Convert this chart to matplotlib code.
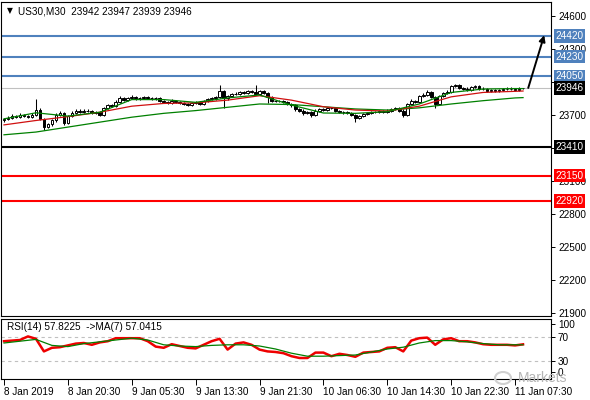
import matplotlib
matplotlib.use('Agg')
import matplotlib.pyplot as plt
import matplotlib.transforms as mtrans
from matplotlib.patches import Ellipse
import numpy as np

plt.rcParams['font.family'] = ['Liberation Sans', 'DejaVu Sans']

# ---------------- data ----------------
title_text = "US30,M30  23942 23947 23939 23946"
rsi_title = "RSI(14) 57.8225  ->MA(7) 57.0415"

opens = [23650,23660,23675,23690,23680,23700,23690,23685,23700,23745,
         23660,23590,23615,23650,23700,23720,23625,23690,23720,23740,
         23725,23740,23735,23720,23725,23700,23760,23790,23785,23820,
         23850,23840,23855,23860,23850,23855,23860,23855,23850,23855,
         23830,23815,23810,23830,23820,23810,23800,23795,23810,23815,
         23800,23830,23845,23850,23860,23915,23850,23870,23890,23895,
         23905,23900,23920,23910,23895,23920,23900,23860,23830,23825,
         23830,23815,23800,23790,23750,23740,23720,23730,23700,23740,
         23750,23745,23760,23765,23735,23730,23725,23720,23700,23675,
         23690,23710,23720,23725,23730,23735,23730,23740,23755,23760,
         23740,23700,23800,23830,23820,23870,23885,23910,23860,23800,
         23870,23900,23910,23960,23970,23945,23940,23925,23955,23960,
         23940,23935,23920,23925,23915,23930,23935,23940,23935,23930,
         23942]
highs = [23675,23690,23705,23700,23715,23710,23700,23715,23845,23760,
         23670,23630,23665,23715,23740,23730,23700,23735,23755,23750,
         23755,23750,23745,23735,23735,23770,23800,23800,23835,23870,
         23865,23865,23880,23870,23865,23870,23870,23865,23865,23865,
         23840,23825,23845,23840,23830,23820,23810,23820,23830,23825,
         23840,23855,23865,23870,23970,23925,23880,23900,23905,23915,
         23915,23930,23925,23975,23930,23930,23910,23870,23840,23840,
         23840,23825,23810,23800,23760,23750,23740,23740,23750,23760,
         23760,23770,23775,23775,23745,23740,23735,23730,23710,23700,
         23720,23730,23735,23740,23745,23745,23750,23765,23775,23770,
         23750,23810,23845,23840,23880,23900,23930,23920,23870,23880,
         23910,23925,23975,23985,23980,23955,23950,23965,23975,23970,
         23950,23945,23935,23935,23940,23945,23950,23950,23945,23950,
         23947]
lows = [23635,23650,23665,23670,23670,23680,23675,23675,23690,23650,
        23560,23580,23600,23640,23690,23610,23615,23680,23710,23715,
        23715,23725,23710,23710,23690,23690,23750,23775,23775,23810,
        23830,23830,23845,23840,23840,23845,23845,23840,23840,23820,
        23805,23800,23800,23810,23800,23790,23780,23785,23800,23790,
        23790,23820,23835,23840,23850,23760,23840,23860,23880,23885,
        23890,23890,23900,23880,23885,23890,23810,23820,23815,23815,
        23805,23790,23775,23740,23725,23700,23710,23680,23695,23730,
        23735,23735,23750,23725,23715,23710,23705,23690,23640,23660,
        23680,23700,23710,23715,23720,23720,23720,23730,23745,23730,
        23680,23690,23790,23805,23810,23860,23875,23850,23765,23790,
        23860,23890,23900,23950,23935,23930,23915,23915,23945,23930,
        23925,23910,23910,23905,23905,23920,23925,23925,23920,23920,
        23939]
closes = [23660,23675,23690,23680,23700,23690,23685,23700,23745,23660,
          23590,23615,23650,23700,23720,23625,23690,23720,23740,23725,
          23740,23735,23720,23725,23700,23760,23790,23785,23820,23850,
          23840,23855,23860,23850,23855,23860,23855,23850,23855,23830,
          23815,23810,23830,23820,23810,23800,23795,23810,23815,23800,
          23830,23845,23850,23860,23915,23850,23870,23890,23895,23905,
          23900,23920,23910,23895,23920,23900,23860,23830,23825,23830,
          23815,23800,23790,23750,23740,23720,23730,23700,23740,23750,
          23745,23760,23765,23735,23730,23725,23720,23700,23675,23690,
          23710,23720,23725,23730,23735,23730,23740,23755,23760,23740,
          23700,23800,23830,23820,23870,23885,23910,23860,23800,23870,
          23900,23910,23960,23970,23945,23940,23925,23955,23960,23940,
          23935,23920,23925,23915,23930,23935,23940,23935,23930,23940,
          23946]

# moving averages sampled every 8 bars (+ last bar)
ma_bars = [0, 8, 16, 24, 32, 40, 48, 56, 64, 72, 80, 88, 96, 104, 112, 120, 128, 130]
ma_fast = [23665,23720,23690,23725,23840,23840,23815,23855,23882,23790,23718,23715,23730,23800,23905,23936,23940,23940]
ma_mid = [23610,23650,23685,23725,23780,23805,23810,23835,23875,23835,23775,23745,23735,23780,23865,23905,23915,23918]
ma_slow = [23520,23545,23590,23635,23680,23715,23740,23770,23800,23795,23775,23755,23745,23765,23800,23830,23855,23858]

# horizontal levels
levels = [24420, 24230, 24050, 23410, 23150, 22920]
level_colors = ['#4f81bd', '#4f81bd', '#4f81bd', '#000000', '#ff0000', '#ff0000']
price_ticks = [24600, 24300, 24000, 23700, 23400, 23100, 22800, 22500, 22200, 21900]
price_tick_labels = ['24600', '24300', '', '23700', '', '23100', '22800', '22500', '22200', '21900']

# RSI (every 2 bars) and its MA(7) (every 4 bars + last)
rsi_bars = list(range(0, 131, 2))
rsi_vals = [63,64,65,71,67,46,52,53,56,59,60,57,61,63,68,68,68,68,63,54,
            52,58,55,52,51,57,63,67,49,59,61,57,49,46,45,43,38,35,35,44,
            44,38,42,40,37,44,45,46,52,53,46,64,68,69,57,66,68,63,63,61,
            58,57,57,57,56,57.8]
rsi_ma_bars = list(range(0, 129, 4)) + [130]
rsi_ma_vals = [60,63,66,56,54,59,62,65,68,65,57,55,54,56,57,57,55,50,43,38,
               38,39,40,45,50,53,60,64,64,62,59,57,57,57.0]
rsi_levels = [70, 30]

x_tick_bars = [0, 16, 32, 48, 64, 80, 96, 112, 128]
x_tick_labels = ['8 Jan 2019', '8 Jan 20:30', '9 Jan 05:30', '9 Jan 13:30', '9 Jan 21:30',
                 '10 Jan 06:30', '10 Jan 14:30', '10 Jan 22:30', '11 Jan 07:30']

# ---------------- figure ----------------
W, H = 590, 400
fig = plt.figure(figsize=(W / 100, H / 100), dpi=100)
fig.patch.set_facecolor('white')

def rect(l, t, r, b):
    return [l / W, 1 - b / H, (r - l) / W, (b - t) / H]

ax = fig.add_axes(rect(1, 2, 551, 316))
rx = fig.add_axes(rect(1, 319, 551, 379))

FS = 7.2
for a in (ax, rx):
    for s in a.spines.values():
        s.set_linewidth(0.8)
        s.set_color('black')
    a.set_xlim(-0.75, 137)

# candles
idx = np.arange(len(closes))
o = np.array(opens, float); c = np.array(closes, float)
h = np.array(highs, float); l = np.array(lows, float)
up = c >= o
ax.vlines(idx, l, h, color='black', lw=0.75, zorder=3)
bottom = np.minimum(o, c)
height = np.maximum(np.abs(c - o), 2)
ax.bar(idx, height, bottom=bottom, width=0.68,
       color=np.where(up, 'white', 'black'), edgecolor='black', linewidth=0.7, zorder=4)

# moving averages
ax.plot(ma_bars, ma_slow, color='#008000', lw=0.9, zorder=5)
ax.plot(ma_bars, ma_mid, color='#d01010', lw=0.9, zorder=5)
ax.plot(ma_bars, ma_fast, color='#008000', lw=0.9, zorder=5)

# level lines
ax.axhline(closes[-1], color='#c0c0c0', lw=0.8, zorder=1)
for v, col in zip(levels, level_colors):
    ax.axhline(v, color=col, lw=1.5, zorder=2)

ax.set_ylim(21873, 24727)
ax.yaxis.tick_right()
ax.set_yticks(price_ticks)
ax.set_yticklabels(price_tick_labels)
ax.tick_params(axis='y', direction='out', length=3, width=0.7, labelsize=FS, pad=2, colors='black')
ax.set_xticks([])

trans = mtrans.blended_transform_factory(ax.transAxes, ax.transData)
boxes = [(v, col) for v, col in zip(levels, level_colors)] + [(closes[-1], '#000000')]
for v, col in boxes:
    ax.text(1.0 + 4.5 / 550, v, f'{int(v)}', transform=trans, ha='left', va='center',
            fontsize=FS, color='white', clip_on=False, zorder=10,
            bbox=dict(boxstyle='square,pad=0.18', fc=col, ec='none'))

# arrow
ax.annotate('', xy=(idx[-1] + 5.3, levels[0] + 5), xytext=(idx[-1] + 1.3, closes[-1]),
            arrowprops=dict(arrowstyle='-|>', color='black', lw=1.4, mutation_scale=9,
                            shrinkA=0, shrinkB=0), zorder=8)

ax.text(6 / 550, 1 - 9 / 314, '\u25bc', transform=ax.transAxes, fontsize=5.5,
        ha='left', va='center', family=['DejaVu Sans'])
ax.text(17 / 550, 1 - 9 / 314, title_text, transform=ax.transAxes, fontsize=FS,
        ha='left', va='center')

# RSI panel
for lv in rsi_levels:
    rx.axhline(lv, color='#c0c0c0', lw=0.8, ls=(0, (3, 3)), zorder=1)
rx.plot(rsi_bars, rsi_vals, color='#ee0000', lw=1.8, zorder=3)
rx.plot(rsi_ma_bars, rsi_ma_vals, color='#008000', lw=0.9, zorder=4)
rx.set_ylim(0, 100)
rx.yaxis.tick_right()
rx.set_yticks([91, 70, 30, 12])
rx.set_yticklabels(['100', '70', '30', '0'])
rx.tick_params(axis='y', direction='out', length=3, width=0.7, labelsize=FS, pad=2)
rx.set_xticks(x_tick_bars)
rx.set_xticklabels(x_tick_labels, ha='left')
rx.tick_params(axis='x', direction='out', length=4, width=0.7, labelsize=FS, pad=2)
for t in rx.get_xticklabels():
    t.set_horizontalalignment('left')
rx.text(6 / 550, 1 - 8 / 60, rsi_title, transform=rx.transAxes, fontsize=FS,
        ha='left', va='center')

# watermark
fig.add_artist(Ellipse((503 / W, 1 - 378 / H), 16 / W, 12 / H, transform=fig.transFigure,
                       fill=False, ec='#d0d0d0', lw=1.5))
fig.text(518 / W, 1 - 378 / H, 'Markets', color='#b5b5b5', fontsize=10, ha='left', va='center')

fig.savefig('out.png', dpi=100, facecolor='white')
